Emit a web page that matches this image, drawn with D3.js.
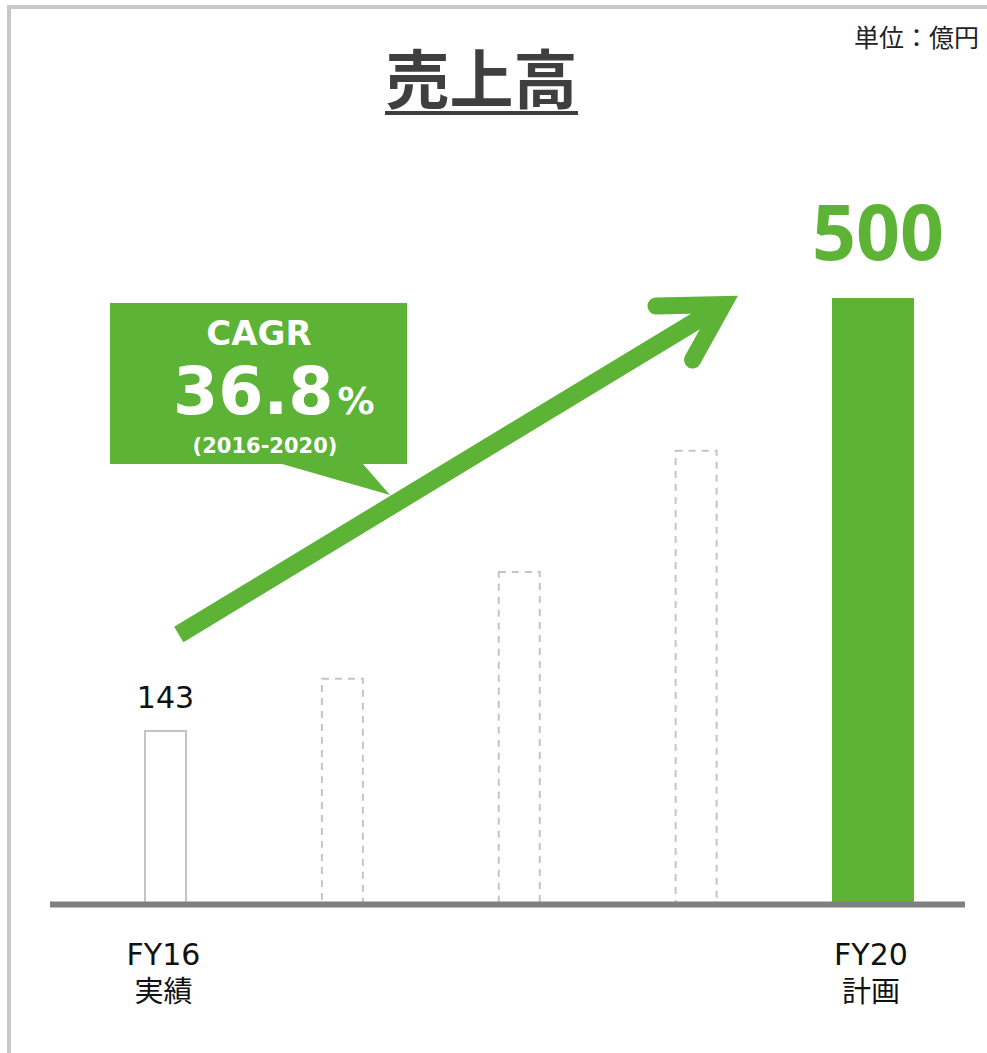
<!DOCTYPE html>
<html lang="ja">
<head>
<meta charset="utf-8">
<script src="https://cdn.jsdelivr.net/npm/d3@7"></script>
<style>
  html, body { margin: 0; padding: 0; background: #fff; }
  svg { display: block; }
</style>
</head>
<body>
<svg id="chart" width="987" height="1053"></svg>
<script>
// 売上高の推移（FY16 実績 → FY20 計画）
const categories = ["FY16", "FY17", "FY18", "FY19", "FY20"];
const sales      = [143, 186, 274, 374, 500];
const kinds      = ["actual", "projected", "projected", "projected", "plan"];
const tickLines  = [["FY16", "実績"], null, null, null, ["FY20", "計画"]];
const valueLabels = ["143", null, null, null, "500"];
const cagrTitle  = "CAGR";
const cagrValue  = "36.8";
const cagrPeriod = "(2016-2020)";
const chartTitle = "売上高";
const unitLabel  = "単位：億円";

const GREEN = "#5cb335";
const GRAY_LINE = "#c4c4c4";
const LATIN = "'DejaVu Sans', Verdana, sans-serif";
const CJK = "'Noto Sans CJK JP', 'Noto Sans', sans-serif";

const svg = d3.select("#chart");

// frame (left and top edges only are visible)
svg.append("path")
  .attr("d", "M9,1060 V7 H1000")
  .attr("fill", "none")
  .attr("stroke", "#c8c8c8")
  .attr("stroke-width", 4);

// scales
const x = d3.scalePoint().domain(categories).range([165.5, 873]);
const y = d3.scaleLinear().domain([0, 500]).range([904.4, 298]);
const barWidth = k => k === "plan" ? 82 : 41;

const data = categories.map((c, i) => ({ cat: c, value: sales[i], kind: kinds[i], ticks: tickLines[i], label: valueLabels[i] }));

// title
svg.append("text")
  .attr("x", 481.5).attr("y", 103)
  .attr("text-anchor", "middle")
  .attr("font-family", CJK).attr("font-weight", 700)
  .attr("font-size", 64).attr("fill", "#3f3f3f")
  .text(chartTitle);
svg.append("rect")
  .attr("x", 385).attr("y", 111).attr("width", 193).attr("height", 4)
  .attr("fill", "#3f3f3f");

// unit
svg.append("text")
  .attr("x", 979).attr("y", 47)
  .attr("text-anchor", "end")
  .attr("font-family", CJK).attr("font-size", 25).attr("fill", "#222")
  .text(unitLabel);

// bars
const bars = svg.append("g");
bars.selectAll("rect").data(data).join("rect")
  .attr("x", d => x(d.cat) - barWidth(d.kind) / 2)
  .attr("y", d => y(d.value))
  .attr("width", d => barWidth(d.kind))
  .attr("height", d => y(0) - y(d.value))
  .attr("fill", d => d.kind === "plan" ? GREEN : "#fff")
  .attr("stroke", d => d.kind === "plan" ? "none" : GRAY_LINE)
  .attr("stroke-width", 2)
  .attr("stroke-dasharray", d => d.kind === "projected" ? "7,6" : null);

// baseline axis
const axis = svg.append("g").attr("transform", `translate(0,${y(0)})`)
  .call(d3.axisBottom(x).tickSize(0).tickFormat(""));
axis.select(".domain").remove();
axis.append("line")
  .attr("x1", 50).attr("x2", 965)
  .attr("stroke", "#808080").attr("stroke-width", 6);

// category labels
const tickG = svg.append("g");
data.filter(d => d.ticks).forEach(d => {
  tickG.append("text")
    .attr("x", x(d.cat) - 2).attr("y", 965)
    .attr("text-anchor", "middle")
    .attr("font-family", LATIN).attr("font-size", 30).attr("fill", "#111")
    .text(d.ticks[0]);
  tickG.append("text")
    .attr("x", x(d.cat) - 2).attr("y", 1002)
    .attr("text-anchor", "middle")
    .attr("font-family", CJK).attr("font-size", 29).attr("fill", "#111")
    .text(d.ticks[1]);
});

// value labels
data.filter(d => d.label).forEach(d => {
  const plan = d.kind === "plan";
  svg.append("text")
    .attr("x", x(d.cat) + (plan ? 5 : 0))
    .attr("y", y(d.value) - (plan ? 38 : 23))
    .attr("text-anchor", "middle")
    .attr("font-family", plan ? "'Noto Sans', sans-serif" : LATIN)
    .attr("font-weight", plan ? 700 : 400)
    .attr("font-size", plan ? 77 : 30)
    .attr("fill", plan ? GREEN : "#111")
    .text(d.label);
});

// growth arrow
const arrowW = 18;
const shaft = [[178.8, 634.5], [723.3, 304.6]];
const head = [[656, 306], [723.3, 304.6], [692.5, 360]];
const line = d3.line();
svg.append("path")
  .attr("d", line(shaft))
  .attr("fill", "none").attr("stroke", GREEN)
  .attr("stroke-width", arrowW).attr("stroke-linecap", "butt");
svg.append("path")
  .attr("d", line(head))
  .attr("fill", "none").attr("stroke", GREEN)
  .attr("stroke-width", arrowW - 1)
  .attr("stroke-linecap", "round").attr("stroke-linejoin", "miter")
  .attr("stroke-miterlimit", 4);

// CAGR callout
const callout = svg.append("g");
callout.append("path")
  .attr("d", "M110,303 H407 V464 H363 L390,495 L282,464 H110 Z")
  .attr("fill", GREEN);
callout.append("text")
  .attr("x", 259).attr("y", 345)
  .attr("text-anchor", "middle")
  .attr("font-family", LATIN).attr("font-weight", 700)
  .attr("font-size", 34).attr("fill", "#fff")
  .text(cagrTitle);
const big = callout.append("text")
  .attr("x", 173).attr("y", 414)
  .attr("font-family", LATIN).attr("font-weight", 700)
  .attr("fill", "#fff");
big.append("tspan").attr("font-size", 65).text(cagrValue);
big.append("tspan").attr("font-size", 37).attr("dx", 4).text("%");
callout.append("text")
  .attr("x", 265).attr("y", 453)
  .attr("text-anchor", "middle")
  .attr("font-family", LATIN).attr("font-weight", 700)
  .attr("font-size", 21).attr("fill", "#fff")
  .text(cagrPeriod);
</script>
</body>
</html>
